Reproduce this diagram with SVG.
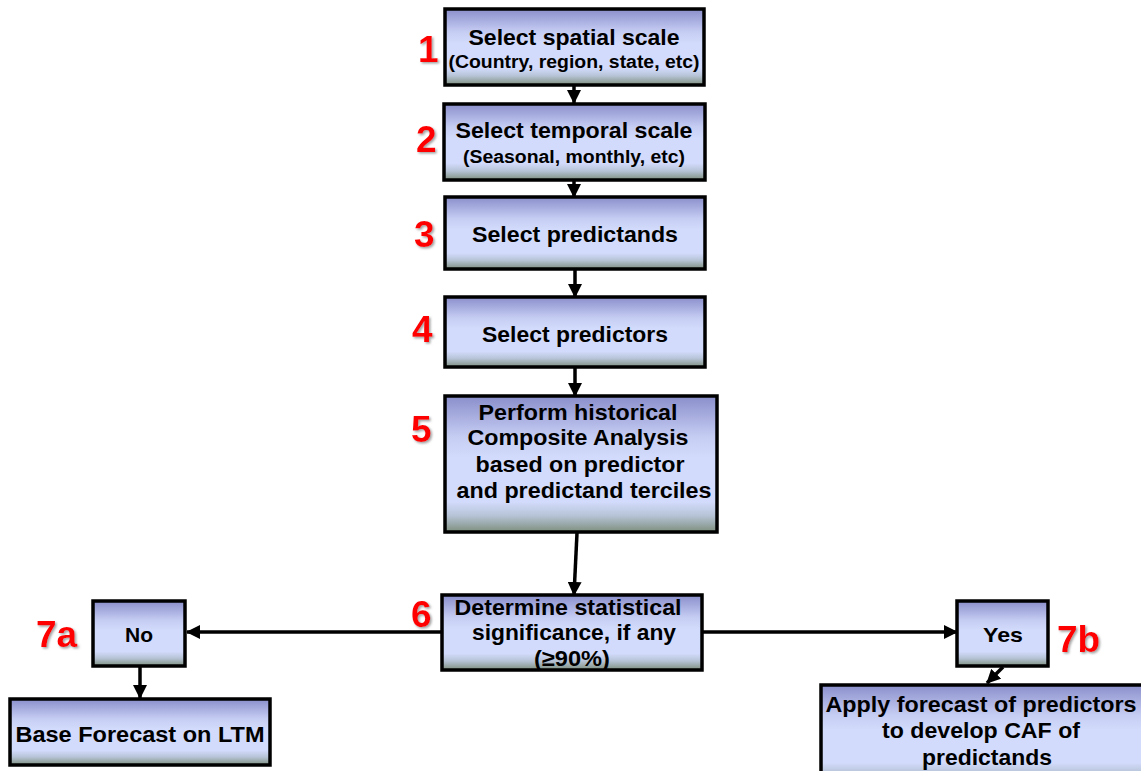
<svg xmlns="http://www.w3.org/2000/svg" width="1141" height="771" viewBox="0 0 1141 771">
<defs>
<linearGradient id="g" x1="0" y1="0" x2="0" y2="1">
<stop offset="0" stop-color="#8a8ecb"/>
<stop offset="0.3" stop-color="#c6cdf3"/>
<stop offset="0.45" stop-color="#d2dbfb"/>
<stop offset="0.78" stop-color="#d2dbfb"/>
<stop offset="0.88" stop-color="#b6c3d6"/>
<stop offset="1" stop-color="#7e8f7e"/>
</linearGradient>
<marker id="ah" markerUnits="userSpaceOnUse" markerWidth="14" markerHeight="14" viewBox="0 0 14 14" refX="13" refY="7" orient="auto">
<path d="M0,0 L14,7 L0,14 Z" fill="#000"/>
</marker>
<filter id="sh" x="-20%" y="-20%" width="150%" height="150%">
<feDropShadow dx="1.5" dy="1.5" stdDeviation="0.8" flood-color="#888" flood-opacity="0.8"/>
</filter>
</defs>
<style>
.box{fill:url(#g);stroke:#000;stroke-width:3.5}
.t{font-family:"Liberation Sans",Arial,sans-serif;font-weight:bold;font-size:22.5px;fill:#000;text-anchor:middle}
.s{font-size:18px}
.num{font-family:"Liberation Sans",Arial,sans-serif;font-weight:bold;font-size:37px;fill:#f00;filter:url(#sh)}
.c{stroke:#000;stroke-width:3.5;fill:none;marker-end:url(#ah)}
</style>
<rect width="1141" height="771" fill="#fff"/>
<g id="connectors">
<line class="c" x1="574" y1="86" x2="574" y2="103"/>
<line class="c" x1="574" y1="181" x2="574" y2="197"/>
<line class="c" x1="575" y1="270" x2="575" y2="297"/>
<line class="c" x1="575" y1="368" x2="575" y2="396"/>
<line class="c" x1="577" y1="533" x2="574" y2="595"/>
<line class="c" x1="442" y1="632" x2="187" y2="632"/>
<line class="c" x1="702" y1="632" x2="957" y2="632"/>
<line class="c" x1="140" y1="667" x2="140" y2="698"/>
<line class="c" x1="1003" y1="667" x2="987" y2="683"/>
</g>
<g id="n1">
<rect class="box" x="445" y="9" width="259" height="76"/>
<text class="t" x="574" y="45" textLength="211" lengthAdjust="spacingAndGlyphs">Select spatial scale</text>
<text class="t s" x="574" y="68" textLength="251" lengthAdjust="spacingAndGlyphs">(Country, region, state, etc)</text>
<text class="num" x="418" y="62">1</text>
</g>
<g id="n2">
<rect class="box" x="444" y="104" width="261" height="76"/>
<text class="t" x="574" y="138" textLength="237" lengthAdjust="spacingAndGlyphs">Select temporal scale</text>
<text class="t s" x="574" y="163" textLength="222" lengthAdjust="spacingAndGlyphs">(Seasonal, monthly, etc)</text>
<text class="num" x="416" y="152">2</text>
</g>
<g id="n3">
<rect class="box" x="445" y="197" width="260" height="72"/>
<text class="t" x="575" y="242" textLength="206" lengthAdjust="spacingAndGlyphs">Select predictands</text>
<text class="num" x="414" y="247">3</text>
</g>
<g id="n4">
<rect class="box" x="445" y="297" width="260" height="70"/>
<text class="t" x="575" y="342" textLength="186" lengthAdjust="spacingAndGlyphs">Select predictors</text>
<text class="num" x="412" y="342">4</text>
</g>
<g id="n5">
<rect class="box" x="445" y="396" width="272" height="136"/>
<text class="t" x="578" y="420" textLength="199" lengthAdjust="spacingAndGlyphs">Perform historical</text>
<text class="t" x="578" y="445" textLength="221" lengthAdjust="spacingAndGlyphs">Composite Analysis</text>
<text class="t" x="580" y="472" textLength="209" lengthAdjust="spacingAndGlyphs">based on predictor</text>
<text class="t" x="584" y="498" textLength="255" lengthAdjust="spacingAndGlyphs">and predictand terciles</text>
<text class="num" x="411" y="442">5</text>
</g>
<g id="n6">
<rect class="box" x="442" y="595" width="260" height="75"/>
<text class="t" x="568" y="615" textLength="227" lengthAdjust="spacingAndGlyphs">Determine statistical</text>
<text class="t" x="574" y="640" textLength="204" lengthAdjust="spacingAndGlyphs">significance, if any</text>
<text class="t" x="572" y="666" textLength="76" lengthAdjust="spacingAndGlyphs">(≥90%)</text>
<text class="num" x="411" y="627">6</text>
</g>
<g id="n7a">
<rect class="box" x="93" y="601" width="92" height="65"/>
<text class="t" x="139" y="642" style="font-size:21px">No</text>
<text class="num" x="36" y="647">7a</text>
</g>
<g id="n7b">
<rect class="box" x="957" y="601" width="91" height="65"/>
<text class="t" x="1003" y="642" style="font-size:21px" textLength="40" lengthAdjust="spacingAndGlyphs">Yes</text>
<text class="num" x="1057" y="652">7b</text>
</g>
<g id="nltm">
<rect class="box" x="10" y="699" width="260" height="66"/>
<text class="t" x="140" y="742" textLength="249" lengthAdjust="spacingAndGlyphs">Base Forecast on LTM</text>
</g>
<g id="ncaf">
<rect class="box" x="821" y="685" width="330" height="100"/>
<text class="t" x="981" y="712" textLength="311" lengthAdjust="spacingAndGlyphs">Apply forecast of predictors</text>
<text class="t" x="981" y="738" textLength="198" lengthAdjust="spacingAndGlyphs">to develop CAF of</text>
<text class="t" x="987" y="765" textLength="130" lengthAdjust="spacingAndGlyphs">predictands</text>
</g>
</svg>
